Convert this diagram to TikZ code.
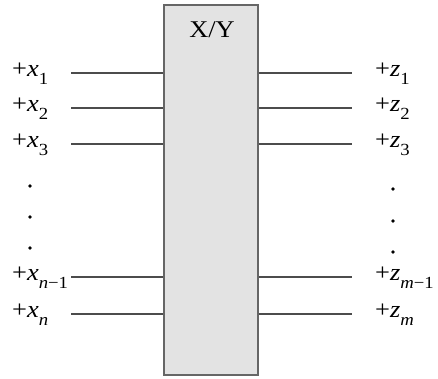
\documentclass[tikz,border=0pt]{standalone}
\usepackage{fontspec}
\setmainfont{Liberation Serif}
\usetikzlibrary{positioning}
\newcommand{\pinlabel}[2]{+\textit{#1}\raisebox{-8pt}{\fontsize{17}{17}\selectfont #2}}

\begin{document}
\begin{tikzpicture}[x=1pt, y=-1pt,
    blk/.style={draw=black!60, line width=1.6pt, fill=black!11,
                minimum width=94pt, minimum height=370pt, inner sep=0pt},
    lb/.style={font=\fontsize{24}{26}\selectfont, inner sep=0pt, xscale=1.1},
    wr/.style={-, black!70, line width=1.3pt},
    dt/.style={circle, fill=black, inner sep=0pt, minimum size=3.8pt}
  ]
    \useasboundingbox (0,0) rectangle (438,378);
    \node[blk] (box) at (211,190) {};
    \node[lb, anchor=base] (title) at (212,37) {X/Y};
    % inputs
    \coordinate (x1) at (71,73);
    \coordinate (x2) at (71,108);
    \coordinate (x3) at (71,144);
    \coordinate (xn1) at (71,277);
    \coordinate (xn) at (71,314);
    \draw[wr] (x1)--(x1 -| box.west); \draw[wr] (x2)--(x2 -| box.west);
    \draw[wr] (x3)--(x3 -| box.west); \draw[wr] (xn1)--(xn1 -| box.west);
    \draw[wr] (xn)--(xn -| box.west);
    \node[lb, anchor=base west] (lx1)  at (12,76)  {\pinlabel{x}{1}};
    \node[lb, anchor=base west] (lx2)  at (12,111) {\pinlabel{x}{2}};
    \node[lb, anchor=base west] (lx3)  at (12,147) {\pinlabel{x}{3}};
    \node[lb, anchor=base west] (lxn1) at (12,280) {\pinlabel{x}{\textit{n}−1}};
    \node[lb, anchor=base west] (lxn)  at (12,317) {\pinlabel{x}{\textit{n}}};
    \node[dt] (xd1) at (30,186) {};
    \node[dt] (xd2) at (30,217) {};
    \node[dt] (xd3) at (30,248) {};
    % outputs
    \coordinate (z1) at (352,73);
    \coordinate (z2) at (352,108);
    \coordinate (z3) at (352,144);
    \coordinate (zm1) at (352,277);
    \coordinate (zm) at (352,314);
    \draw[wr] (z1 -| box.east)--(z1); \draw[wr] (z2 -| box.east)--(z2);
    \draw[wr] (z3 -| box.east)--(z3); \draw[wr] (zm1 -| box.east)--(zm1);
    \draw[wr] (zm -| box.east)--(zm);
    \node[lb, anchor=base west] (lz1)  at (375,76)  {\pinlabel{z}{1}};
    \node[lb, anchor=base west] (lz2)  at (375,111) {\pinlabel{z}{2}};
    \node[lb, anchor=base west] (lz3)  at (375,147) {\pinlabel{z}{3}};
    \node[lb, anchor=base west] (lzm1) at (375,280) {\pinlabel{z}{\textit{m}−1}};
    \node[lb, anchor=base west] (lzm)  at (375,317) {\pinlabel{z}{\textit{m}}};
    \node[dt] (zd1) at (393,189) {};
    \node[dt] (zd2) at (393,221) {};
    \node[dt] (zd3) at (393,252) {};
\end{tikzpicture}
\end{document}
